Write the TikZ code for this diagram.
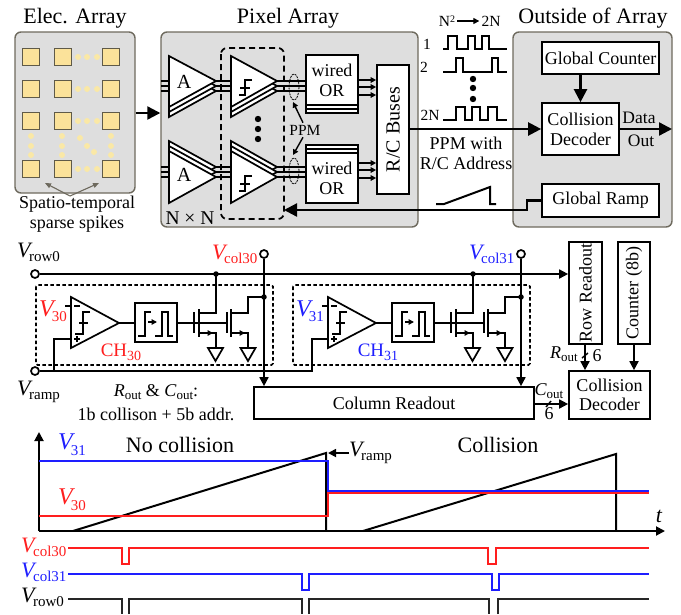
\documentclass[tikz,border=0pt]{standalone}
\usepackage{fontspec}
\setmainfont{Liberation Serif}
\usetikzlibrary{arrows.meta,calc}
\definecolor{panelgray}{HTML}{DEDEDE}
\definecolor{panelline}{HTML}{6E6A5E}
\definecolor{padfill}{HTML}{FBE29A}
\definecolor{padline}{HTML}{5F5A48}
\definecolor{dotyellow}{HTML}{FAE8A6}
\definecolor{myred}{HTML}{FF1E1E}
\definecolor{myblue}{HTML}{1E1EFF}
\newcommand{\fs}[1]{\fontsize{#1}{#1}\selectfont}
\newcommand{\Vlab}[2]{{\fs{22}\itshape V}\kern-1.5pt\raisebox{-4pt}{\fs{#2}#1}}
\newcommand{\Rlab}[2]{{\fs{18}\itshape #2}\raisebox{-3pt}{\fs{13}#1}}
\tikzset{
  panel/.style={draw=panelline,fill=panelgray,line width=1.4pt,rounded corners=6pt,inner sep=0pt},
  bx/.style={draw=black,fill=white,line width=1.7pt,inner sep=0pt,align=center,font=\fs{18}},
  pad/.style={draw=padline,fill=padfill,line width=1.3pt,minimum size=17pt,inner sep=0pt},
  ydot/.style={fill=dotyellow,draw=none},
  wire/.style={line width=1.7pt},
  thin wire/.style={line width=1.4pt},
  big/.style={line width=2.3pt,-{Triangle[length=13pt,width=13pt]}},
  mid/.style={line width=1.7pt,-{Triangle[length=9pt,width=9pt]}},
  small/.style={line width=1.4pt,-{Triangle[length=5.5pt,width=5.5pt]}},
  term/.style={circle,draw=black,fill=white,line width=1.7pt,minimum size=8pt,inner sep=0pt},
  jdot/.style={circle,fill=black,minimum size=5.5pt,inner sep=0pt},
  lab/.style={inner sep=0pt,font=\fs{18}},
  tri/.style={draw=black,fill=white,line width=1.7pt,line join=miter},
  sig/.style={line width=1.7pt},
  plot/.style={line width=1.9pt},
}
\newcommand{\stack}[6]{% x, top, tipx, tipy, bottom, offset
  \foreach \k in {2,1,0}{
    \draw[tri] (#1,{#2+\k*#6}) -- (#3,{#4+\k*#6}) -- (#1,{#5+\k*#6}) -- cycle;
  }
}
\newcommand{\hyst}[1]{%
  \draw[wire,shift={(0,#1)}] (252,80) -- (245,80) -- (245,95) -- (239,95) (240,88) -- (250,88);
}
\newcommand{\chan}[4]{% id, colour, voltage text, ch text
  \begin{scope}[xshift=#4pt]
    \draw[line width=1.6pt,dash pattern=on 3.5pt off 2.5pt,rounded corners=1.5pt] (36,285) rectangle (273,365);
    \draw[tri] (71,297) coordinate (cmpa#1) -- (119,323) coordinate (tip#1) -- (71,348) coordinate (cmpb#1) -- cycle;
    \draw[wire] (65,306) -- (71,306);
    \draw[wire] (74,306) -- (80,306);
    \draw[thin wire] (74,339) -- (80,339) (77,336) -- (77,342);
    \draw[wire] (90,312) -- (83,312) -- (83,334) -- (75,334) (79,323) -- (88,323);
    \node[bx,minimum width=42pt,minimum height=39pt] (pul#1) at (156,322.5) {};
    \draw[wire] (tip#1) -- (pul#1.west |- tip#1);
    \draw[wire] (138,336) -- (145,336) -- (145,312) -- (151,312);
    \draw[small] (148,322) -- (157,322);
    \draw[wire] (155,336) -- (162,336) -- (162,312) -- (168,312) -- (168,336) -- (173,336);
    \coordinate (g#1) at (227,323);
    \draw[wire] (pul#1.east |- g#1) -- (g#1);
    \draw[line width=2pt] (194,312) -- (194,333);
    \draw[line width=2pt] (199,309) -- (199,337);
    \draw[line width=2pt] (227,312) -- (227,333);
    \draw[line width=2pt] (231,309) -- (231,337);
    \coordinate (rd#1) at (216,274);
    \draw[wire] (rd#1) -- (216,313) -- (199,313);
    \draw[small] (199,333) -- (213,333);
    \draw[wire] (211,333) -- (216,333) -- (216,348);
    \draw[tri,fill=none] (208,348) -- (223,348) -- (215.5,361) -- cycle;
    \coordinate (cd#1) at (264,297);
    \draw[wire] (231,313) -- (248,313) -- (248,297) -- (cd#1);
    \draw[small] (231,333) -- (245,333);
    \draw[wire] (243,333) -- (248,333) -- (248,348);
    \draw[tri,fill=none] (240.5,348) -- (255.5,348) -- (248,361) -- cycle;
    \node[jdot] at (rd#1) {};
    \node[jdot] at (cd#1) {};
    \node[lab,text=#2,anchor=west] (vv#1) at (39,311) {{\fs{24}\itshape V}\kern-2pt\raisebox{-5pt}{\fs{15}#3}};
    \node[lab,text=#2] (ch#1) at (121,352) {{\fs{19}CH}\raisebox{-4pt}{\fs{14}#3}};
  \end{scope}
}
\begin{document}
\begin{tikzpicture}[x=1pt,y=-1pt]
\useasboundingbox (0,0) rectangle (681,614);
% titles
\node[lab,font=\fs{22}] (t1) at (75,18) {Elec. Array};
\node[lab,font=\fs{22}] (t2) at (288,18) {Pixel Array};
\node[lab,font=\fs{22}] (t3) at (593,18) {Outside of Array};
% panels
\node[panel,minimum width=120pt,minimum height=161pt] (elec) at (75,112.5) {};
\node[panel,minimum width=257pt,minimum height=195pt] (pix) at (289.5,129.5) {};
\node[panel,minimum width=159pt,minimum height=195pt] (out) at (592.5,129.5) {};
% pads
\foreach \x [count=\i] in {31,63,111}{
  \foreach \y [count=\j] in {57,89,121,169}{
    \node[pad] (p\i\j) at (\x,\y) {};
  }
}
\foreach \y in {57,89,121,169}{\foreach \x in {78,87,97}{\fill[ydot] (\x,\y) circle (3pt);}}
\foreach \x in {31,62,111}{\foreach \y in {136,146,155}{\fill[ydot] (\x,\y) circle (3pt);}}
\fill[ydot] (80,138) circle (3pt) (87,146) circle (3pt) (94,152) circle (3pt);
\node[lab] (sp1) at (77,204) {Spatio-temporal};
\node[lab] (sp2) at (77,224) {sparse spikes};
\coordinate (spk) at (70,196);
\draw[line width=1.1pt,draw=panelline,-{Triangle[length=6pt,width=5pt]}] (spk) -- (45,183);
\draw[line width=1.1pt,draw=panelline,-{Triangle[length=6pt,width=5pt]}] (spk) -- (99,183);
\draw[big] (elec.east |- 0,113) -- (pix.west |- 0,113);
% pixel wires
\foreach \y in {81,86,91}{\draw[thin wire] (161,\y) -- (306,\y);}
\foreach \y in {167,172,177}{\draw[thin wire] (161,\y) -- (306,\y);}
% amps and comparators
\stack{169}{56}{216}{81}{107}{5}
\stack{231}{56}{277}{81}{107}{5}
\stack{169}{151}{216}{177}{203}{-5}
\stack{231}{151}{277}{177}{203}{-5}
\node[lab,font=\fs{20}] (a1) at (184,82) {A};
\node[lab,font=\fs{20}] (a2) at (184,175) {A};
\hyst{0}
\hyst{96}
% wired OR
\node[bx,minimum width=52pt,minimum height=50pt] at (332,88) {};
\node[bx,minimum width=52pt,minimum height=50pt] at (332,84) {};
\node[bx,minimum width=52pt,minimum height=50pt] (or1) at (332,80) {wired\\[2pt]OR};
\node[bx,minimum width=52pt,minimum height=50pt] at (332,170) {};
\node[bx,minimum width=52pt,minimum height=50pt] at (332,174) {};
\node[bx,minimum width=52pt,minimum height=50pt] (or2) at (332,178) {wired\\[2pt]OR};
\node[bx,minimum width=32pt,minimum height=129pt] (rc) at (393,129.5) {};
\node[lab,font=\fs{20},rotate=90] (rct) at (rc.center) {R/C Buses};
\foreach \y in {80,87,95,163,170,178}{\draw[small] (or1.east |- 0,\y) -- (rc.west |- 0,\y);}
% dashed group
\draw[line width=1.7pt,dash pattern=on 6pt off 4pt,rounded corners=6pt] (221,48) rectangle (284,219);
\draw[line width=.8pt,dash pattern=on 2pt off 1pt] (294,87) ellipse [x radius=5pt,y radius=13pt];
\draw[line width=.8pt,dash pattern=on 2pt off 1pt] (294,171) ellipse [x radius=5pt,y radius=13pt];
\node[lab,font=\fs{15.5}] (ppm) at (305,130) {PPM};
\draw[small] (ppm.north) ++(-2,-2) -- (293,102);
\draw[small] (ppm.south) ++(-2,2) -- (293,155);
\foreach \y in {119,129,139}{\fill (258,\y) circle (3.2pt);}
\node[lab,font=\fs{19.5}] (nn) at (190,218) {N × N};
% outside
\node[bx,minimum width=117pt,minimum height=32pt] (gc) at (600.5,58) {Global Counter};
\node[bx,minimum width=77pt,minimum height=52pt] (cd1) at (580.5,129) {Collision\\[2pt]Decoder};
\node[bx,minimum width=117pt,minimum height=33pt] (gr) at (600.5,200.5) {Global Ramp};
\draw[big] (gc.south -| cd1) -- (cd1.north);
\draw[big] (cd1.east) -- (672,129);
\node[lab,font=\fs{17.5}] (data) at (639,118) {Data};
\node[lab,font=\fs{17.5}] (ot) at (641,141) {Out};
\draw[big] (rc.east |- 0,129) -- (cd1.west);
\node[lab] (pw1) at (466,143) {PPM with};
\node[lab] (pw2) at (466,163) {R/C Address};
\draw[big] (gr.west) -- (527,200.5) -- (527,210) -- (284,210);
\draw[line width=2pt] (436,204) -- (444,204) -- (490,187) -- (490,204) -- (496,204);
% pulse trains
\node[lab,font=\fs{15.5}] (n2) at (447,21) {N\raisebox{4pt}{\fs{10}2}};
\node[lab,font=\fs{15.5}] (n3) at (491,21) {2N};
\draw[line width=1.3pt,-{Triangle[length=6pt,width=6pt]}] (n2.east) ++(2,0) -- ($(n3.west)+(-2,0)$);
\node[lab,font=\fs{15.5}] (l1) at (427,44) {1};
\node[lab,font=\fs{15.5}] (l2) at (424,67) {2};
\node[lab,font=\fs{15.5}] (l3) at (430,115) {2N};
\draw[sig] (443,49) -- (448,49) -- (448,36) -- (457,36) -- (457,49) -- (468,49) -- (468,36) -- (475,36) -- (475,49) -- (482,49) -- (482,36) -- (489,36) -- (489,49) -- (507,49);
\draw[sig] (443,72) -- (456,72) -- (456,58) -- (463,58) -- (463,72) -- (492,72) -- (492,58) -- (498,58) -- (498,72) -- (507,72);
\draw[sig] (443,120) -- (456,120) -- (456,107) -- (465,107) -- (465,120) -- (472,120) -- (472,107) -- (480,107) -- (480,120) -- (488,120) -- (488,107) -- (497,107) -- (497,120) -- (507,120);
\foreach \y in {79,88,99}{\fill (473,\y) circle (3.2pt);}
% circuit
\node[term] (vrow) at (35,274) {};
\node[term] (vramp) at (35,371) {};
\node[term] (vc30) at (264,254) {};
\node[term] (vc31) at (521,254) {};
\node[bx,minimum width=33pt,minimum height=102pt] (rr) at (585.5,293) {};
\node[lab,font=\fs{18},rotate=90] (rrt) at (rr.center) {Row Readout};
\node[bx,minimum width=32pt,minimum height=102pt] (cn) at (634,293) {};
\node[lab,font=\fs{18},rotate=90] (cnt) at (cn.center) {Counter (8b)};
\node[bx,minimum width=280pt,minimum height=32pt] (cr) at (394,403) {Column Readout};
\node[bx,minimum width=81pt,minimum height=48pt] (cd2) at (609.5,395) {Collision\\[1pt]Decoder};
\draw[wire] (vramp.east) -- (312,371) -- (312,339) -- (328,339);
\draw[wire] (54,371) -- (54,339) -- (71,339);
\chan{a}{myred}{30}{0}
\chan{b}{myblue}{31}{257}
\draw[mid] (vrow.east) -- (rr.west |- vrow);
\draw[mid] (vc30.south) -- (vc30 |- cr.north);
\draw[mid] (vc31.south) -- (vc31 |- cr.north);
\node[lab,anchor=west] (lrow) at (17,252) {\Vlab{row0}{15}};
\node[lab,anchor=west] (lramp) at (17,392) {\Vlab{ramp}{15}};
\node[lab,anchor=west,text=myred] (lc30) at (212,254) {\Vlab{col30}{15}};
\node[lab,anchor=west,text=myblue] (lc31) at (469,254) {\Vlab{col31}{15}};
\node[lab] (rc1) at (156,392) {\Rlab{out}{R} \& \Rlab{out}{C}:};
\node[lab] (rc2) at (156,414) {1b collison + 5b addr.};
\draw[mid] (rr.south |- 0,344) ++(-0.5,0) -- ($(rr.south |- cd2.north)+(-0.5,0)$);
\draw[mid] (cn.south) -- (cn |- cd2.north);
\draw[mid] (cr.east) ++(0,1) -- ($(cd2.west |- cr.east)+(0,1)$);
\draw[thin wire] (582,358) -- (588,353);
\draw[thin wire] (546,407) -- (551,401);
\node[lab] (six1) at (597,356) {6};
\node[lab] (six2) at (549,414) {6};
\node[lab] (ro) at (564,354) {\Rlab{out}{R}};
\node[lab] (co) at (549,391) {\Rlab{out}{C}};
% timing
\coordinate (orig) at (39,531);
\draw[plot,-{Triangle[length=9pt,width=9pt]}] (orig) -- (39,432);
\draw[plot,-{Triangle[length=9pt,width=9pt]}] (orig) -- (665,531);
\draw[line width=2pt] (73,531) -- (326,453) -- (326,531);
\draw[line width=2pt] (363,531) -- (616,454) -- (616,531);
\draw[plot,myblue] (39,461) -- (328,461) -- (328,491) -- (649,491);
\draw[plot,myred] (39,516) -- (328,516) -- (328,493) -- (649,493);
\node[lab,font=\fs{22}] (nc) at (180,445) {No collision};
\node[lab,font=\fs{22}] (co2) at (498,445) {Collision};
\node[lab,anchor=west,text=myblue] (l31) at (58,445) {{\fs{24}\itshape V}\kern-2pt\raisebox{-6pt}{\fs{15}31}};
\node[lab,anchor=west,text=myred] (l30) at (58,500) {{\fs{24}\itshape V}\kern-2pt\raisebox{-6pt}{\fs{15}30}};
\node[lab,anchor=west] (lr2) at (349,453) {\Vlab{ramp}{15}};
\draw[line width=1.7pt,-{Triangle[length=8pt,width=8pt]}] (lr2.west) -- (328,453);
\node[lab,font=\fs{22}\itshape] (tt) at (659,516) {t};
\node[lab,anchor=west,text=myred] (s30) at (21,547) {\Vlab{col30}{15}};
\node[lab,anchor=west,text=myblue] (s31) at (21,572) {\Vlab{col31}{15}};
\node[lab,anchor=west] (s0) at (21,597) {\Vlab{row0}{15}};
\draw[plot,myred] (68,548) -- (122,548) -- (122,564) -- (129,564) -- (129,548) -- (488,548) -- (488,564) -- (496,564) -- (496,548) -- (649,548);
\draw[plot,myblue] (68,574) -- (302,574) -- (302,590) -- (309,590) -- (309,574) -- (492,574) -- (492,590) -- (499,590) -- (499,574) -- (649,574);
\draw[plot,black!85] (68,599) -- (122,599) -- (122,614);
\draw[plot,black!85] (129,614) -- (129,599) -- (302,599) -- (302,614);
\draw[plot,black!85] (309,614) -- (309,599) -- (489,599) -- (489,614);
\draw[plot,black!85] (498,614) -- (498,599) -- (649,599);
\end{tikzpicture}
\end{document}
